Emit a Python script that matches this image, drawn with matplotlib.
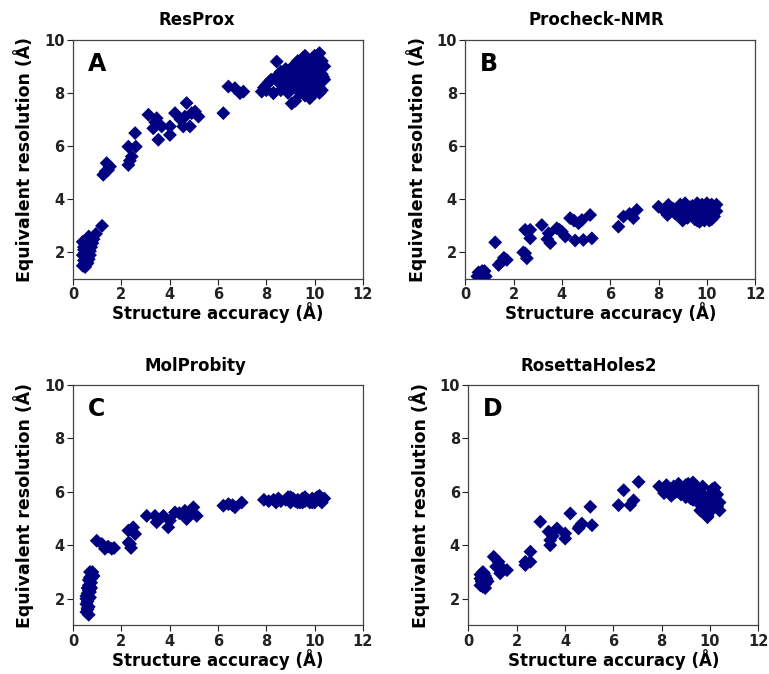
import numpy as np
import matplotlib
matplotlib.use("Agg")
import matplotlib.pyplot as plt

# ---- data (structure accuracy vs equivalent resolution) ----
resprox_x = [0.40, 0.50, 0.60, 0.45, 0.55, 0.65, 0.40, 0.50, 0.60, 0.70, 0.45, 0.55, 0.65, 0.50,
             0.60, 0.70, 0.50, 0.60, 0.55, 0.45, 0.65, 0.75, 0.80, 0.60, 0.50, 0.70, 0.85, 0.65,
             0.40, 0.55, 0.95, 1.20,
             1.25, 1.39, 1.53, 1.45, 1.35,
             2.29, 2.29, 2.57, 2.60, 2.43, 2.35,
             3.12, 3.46, 3.32, 3.53, 3.67, 4.01, 4.01, 4.22, 4.70, 4.63, 4.56, 4.84, 5.05, 5.19,
             4.91, 3.40, 4.45,
             6.22, 6.43, 6.70, 6.91, 7.05,
             7.81, 8.29, 8.43, 8.00, 8.00, 8.20, 8.30, 8.40, 8.50, 8.70, 8.80, 8.80, 8.90, 9.00,
             9.00, 9.10, 9.10, 9.20, 9.20, 9.30, 9.30, 9.40, 9.40, 9.50, 9.50, 9.60, 9.60, 9.60,
             9.70, 9.70, 9.70, 9.80, 9.80, 9.80, 9.90, 9.90, 9.90, 10.0, 10.0, 10.0, 10.1, 10.1,
             10.1, 10.2, 10.2, 10.2, 10.3, 10.3, 10.3, 10.4, 10.4, 9.40, 9.00, 8.60, 9.50, 10.0,
             9.80, 10.2, 9.05, 8.10, 7.90, 8.60, 9.30, 10.35]
resprox_y = [1.50, 1.45, 1.60, 1.70, 1.80, 1.75, 1.90, 2.00, 1.95, 2.05, 2.10, 2.20, 2.25, 2.30,
             2.35, 2.30, 1.60, 1.70, 1.55, 2.20, 2.10, 2.20, 2.35, 2.00, 1.85, 1.90, 2.50, 2.60,
             2.40, 2.45, 2.70, 3.00,
             4.92, 5.36, 5.23, 5.10, 5.05,
             5.29, 5.98, 6.49, 5.98, 5.61, 5.45,
             7.18, 7.05, 6.67, 6.24, 6.74, 6.74, 6.42, 7.24, 7.62, 7.11, 6.74, 6.74, 7.30, 7.11,
             7.24, 6.90, 7.00,
             7.24, 8.24, 8.18, 7.99, 8.05,
             8.05, 7.99, 9.18, 8.10, 8.30, 8.50, 8.00, 8.60, 8.40, 8.70, 8.30, 8.90, 8.00, 8.50,
             8.80, 8.20, 9.00, 7.70, 8.60, 8.40, 8.90, 8.00, 9.10, 8.70, 8.30, 9.40, 7.90, 8.90,
             8.50, 8.10, 9.20, 7.80, 8.70, 9.00, 8.30, 8.60, 9.30, 8.00, 8.80, 9.10, 8.40, 8.60,
             9.40, 8.20, 8.90, 9.50, 8.10, 8.70, 9.20, 8.50, 9.00, 8.60, 8.20, 8.10, 9.30, 9.40,
             8.20, 8.00, 7.60, 8.40, 8.20, 8.80, 9.20, 8.60]

procheck_x = [0.50, 0.60, 0.70, 0.80, 0.55, 0.65, 0.85, 0.75, 0.60, 0.70,
              1.24, 1.38, 1.50, 1.72, 1.60,
              2.48, 2.69, 2.69, 2.48, 2.55, 2.40,
              3.17, 3.45, 3.52, 3.40, 3.79, 4.00, 4.14, 3.90,
              4.34, 4.69, 4.83, 5.17, 4.50, 4.89, 5.24, 4.55,
              6.34, 6.55, 6.96, 7.10, 6.80,
              8.00, 8.41, 8.37, 8.20, 8.60, 8.80, 8.90, 9.00, 9.10, 9.20, 9.30, 9.40, 9.50, 9.60,
              9.60, 9.70, 9.70, 9.80, 9.80, 9.90, 9.90, 10.0, 10.0, 10.1, 10.1, 10.2, 10.2, 10.3,
              10.3, 10.4, 10.4, 9.00, 9.30, 9.50, 9.70, 9.90, 10.1, 8.70, 9.10, 9.80, 10.0, 10.2,
              9.40, 9.60, 10.3, 8.50, 9.20]
procheck_y = [1.10, 1.00, 1.20, 1.30, 1.25, 0.95, 1.10, 1.05, 1.15, 1.30,
              2.38, 1.53, 1.65, 1.72, 1.80,
              2.85, 2.85, 2.53, 1.97, 1.78, 2.00,
              3.03, 2.72, 2.35, 2.50, 2.91, 2.78, 2.60, 2.85,
              3.29, 3.10, 3.22, 3.41, 3.20, 2.47, 2.53, 2.45,
              2.97, 3.35, 3.29, 3.60, 3.45,
              3.72, 3.79, 3.41, 3.60, 3.65, 3.50, 3.80, 3.40, 3.65, 3.30, 3.55, 3.75, 3.40, 3.85,
              3.20, 3.60, 3.45, 3.80, 3.30, 3.55, 3.70, 3.40, 3.85, 3.20, 3.65, 3.50, 3.80, 3.35,
              3.70, 3.55, 3.80, 3.20, 3.70, 3.25, 3.15, 3.20, 3.30, 3.45, 3.85, 3.50, 3.60, 3.25,
              3.50, 3.40, 3.60, 3.55, 3.45]

molprobity_x = [0.55, 0.60, 0.65, 0.55, 0.60, 0.65, 0.70, 0.55, 0.60, 0.65, 0.70, 0.60, 0.65,
                0.70, 0.75, 0.65, 0.70, 0.75, 0.80, 0.70, 0.80, 0.85, 0.75, 0.60, 0.65, 0.55,
                0.98, 1.19, 1.32, 1.60, 1.45, 1.70,
                2.29, 2.49, 2.57, 2.36, 2.40, 2.30,
                3.05, 3.39, 3.46, 3.74, 3.94, 4.01, 4.22, 4.63, 4.70, 4.98, 5.12, 4.40, 4.85,
                6.22, 6.43, 6.70, 6.98, 6.60,
                7.90, 8.10, 8.30, 8.50, 8.60, 8.80, 9.00, 9.10, 9.20, 9.30, 9.40, 9.50, 9.60,
                9.70, 9.80, 9.90, 10.0, 10.1, 10.2, 10.3, 10.4, 8.40, 9.00, 9.30, 9.60, 9.90,
                10.2, 10.0, 9.50, 8.90]
molprobity_y = [1.50, 1.60, 1.70, 1.80, 1.90, 2.00, 2.05, 2.10, 2.20, 2.30, 2.25, 2.40, 2.50,
                2.45, 2.60, 2.70, 2.80, 2.75, 2.90, 3.00, 3.00, 2.85, 2.40, 1.65, 1.40, 2.00,
                4.17, 4.05, 3.87, 3.87, 3.95, 3.90,
                4.55, 4.67, 4.42, 4.05, 3.90, 4.10,
                5.10, 5.10, 4.86, 5.10, 4.67, 4.92, 5.23, 5.29, 4.98, 5.42, 5.10, 5.20, 5.15,
                5.48, 5.54, 5.42, 5.60, 5.50,
                5.70, 5.65, 5.70, 5.75, 5.65, 5.70, 5.60, 5.75, 5.65, 5.70, 5.60, 5.75, 5.65,
                5.70, 5.60, 5.75, 5.65, 5.80, 5.70, 5.60, 5.75, 5.60, 5.80, 5.60, 5.80, 5.60,
                5.85, 5.60, 5.60, 5.80]

rosetta_x = [0.50, 0.60, 0.70, 0.55, 0.65, 0.75, 0.50, 0.60, 0.70, 0.80, 0.55, 0.65, 0.75, 0.60,
             0.70, 0.50, 0.60,
             1.05, 1.25, 1.32, 1.60, 1.15, 1.45,
             2.36, 2.57, 2.57, 2.36,
             2.98, 3.32, 3.39, 3.39, 3.67, 4.01, 4.01, 4.22, 4.56, 4.70, 5.05, 5.12, 4.60, 3.50,
             6.22, 6.43, 6.70, 6.84, 7.05,
             7.90, 8.10, 8.20, 8.30, 8.40, 8.50, 8.60, 8.70, 8.80, 8.90, 9.00, 9.10, 9.20, 9.30,
             9.40, 9.50, 9.60, 9.70, 9.80, 9.90, 10.0, 10.1, 10.2, 10.3, 10.4, 9.00, 9.20, 9.40,
             9.60, 9.80, 10.0, 10.2, 10.4, 9.50, 9.70, 9.90, 10.1, 10.3, 8.50, 8.80, 9.30, 9.70,
             10.0, 10.2, 9.10, 9.90, 10.1]
rosetta_y = [2.50, 2.45, 2.55, 2.65, 2.60, 2.70, 2.75, 2.80, 2.85, 2.65, 2.90, 2.95, 2.75, 2.55,
             2.40, 2.90, 3.00,
             3.57, 3.38, 2.95, 3.07, 3.20, 3.10,
             3.38, 3.76, 3.38, 3.26,
             4.88, 4.51, 4.19, 4.00, 4.63, 4.44, 4.25, 5.19, 4.63, 4.81, 5.44, 4.75, 4.70, 4.35,
             5.50, 6.06, 5.50, 5.68, 6.37,
             6.20, 5.95, 6.25, 6.10, 5.85, 6.20, 6.00, 6.30, 5.90, 6.15, 5.80, 6.30, 6.00, 5.70,
             6.20, 5.60, 6.10, 5.40, 5.80, 5.10, 5.60, 6.10, 5.50, 5.90, 5.60, 6.25, 5.75, 5.90,
             5.30, 5.50, 5.25, 5.80, 5.30, 6.00, 5.90, 5.40, 5.40, 5.45, 5.95, 6.15, 6.35, 6.20,
             5.90, 6.15, 5.85, 5.05, 5.75]

titles = ["ResProx", "Procheck-NMR", "MolProbity", "RosettaHoles2"]
letters = ["A", "B", "C", "D"]
series = [(resprox_x, resprox_y), (procheck_x, procheck_y),
          (molprobity_x, molprobity_y), (rosetta_x, rosetta_y)]

plt.rcParams['font.family'] = ['DejaVu Sans']
plt.rcParams['font.weight'] = 'bold'

fig = plt.figure(figsize=(7.69, 6.74), dpi=100)
# axes rectangles [left, bottom, width, height] in figure fraction
rects = [[0.095, 0.586, 0.377, 0.355], [0.605, 0.586, 0.377, 0.355],
         [0.095, 0.072, 0.377, 0.357], [0.609, 0.072, 0.377, 0.357]]
# title centres (figure fraction), titles sit a bit left of the axes centre
title_pos = [(0.256, 0.970), (0.775, 0.970), (0.254, 0.457), (0.765, 0.457)]

for rect, (xs, ys), title, letter, tp in zip(rects, series, titles, letters, title_pos):
    ax = fig.add_axes(rect)
    ax.scatter(xs, ys, marker='D', s=50, color='#000080', edgecolors='none', zorder=3)
    ax.set_xlim(0, 12)
    ax.set_ylim(1, 10)
    ax.set_xticks([0, 2, 4, 6, 8, 10, 12])
    ax.set_yticks([2, 4, 6, 8, 10])
    ax.tick_params(labelsize=10.5, length=4, width=0.8, colors='#222222', pad=2)
    for lab in ax.get_xticklabels() + ax.get_yticklabels():
        lab.set_fontweight('bold')
    for sp in ax.spines.values():
        sp.set_color('#444444')
        sp.set_linewidth(0.9)
    fig.text(tp[0], tp[1], title, fontsize=12, fontweight='bold', ha='center', va='center')
    ax.set_xlabel("Structure accuracy (Å)", fontsize=12, fontweight='bold', labelpad=0)
    ax.set_ylabel("Equivalent resolution (Å)", fontsize=12.5, fontweight='bold', labelpad=7)
    ax.text(0.05, 0.95, letter, transform=ax.transAxes, fontsize=17, fontweight='bold',
            va='top', ha='left')

fig.savefig("out.png", dpi=100)
